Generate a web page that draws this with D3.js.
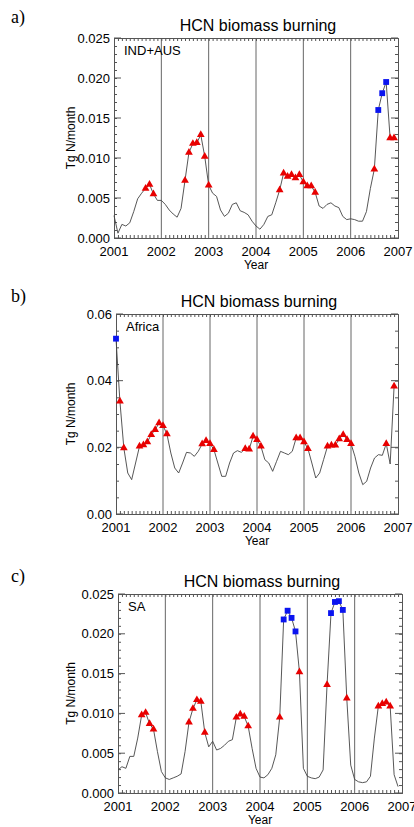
<!DOCTYPE html>
<html>
<head>
<meta charset="utf-8">
<script src="https://cdn.jsdelivr.net/npm/d3@7/dist/d3.min.js"></script>
<style>
  html, body { margin: 0; padding: 0; background: #fff; }
  svg { display: block; font-family: "Liberation Sans", Arial, sans-serif; }
</style>
</head>
<body>
<div id="chart"></div>
<script>
// ---- data (monthly values, Jan 2001 .. Dec 2006, Tg N/month) ----
const years = [2001, 2002, 2003, 2004, 2005, 2006, 2007];

const indAusValues = [
  0.0028, 0.0006, 0.0017, 0.0015, 0.0019, 0.0033, 0.0049, 0.0056, 0.0062, 0.0067, 0.0055, 0.0047,
  0.0047, 0.0042, 0.0035, 0.0030, 0.0026, 0.0037, 0.0072, 0.0107, 0.0118, 0.0119, 0.0129, 0.0102,
  0.0066, 0.0056, 0.0052, 0.0035, 0.0027, 0.0031, 0.0042, 0.0044, 0.0034, 0.0032, 0.0029, 0.0021,
  0.0015, 0.0011, 0.0017, 0.0027, 0.0029, 0.0044, 0.0060, 0.0081, 0.0077, 0.0079, 0.0075, 0.0079,
  0.0070, 0.0065, 0.0065, 0.0057, 0.0040, 0.0037, 0.0042, 0.0044, 0.0040, 0.0038, 0.0027, 0.0023,
  0.0024, 0.0023, 0.0021, 0.0021, 0.0033, 0.0062, 0.0086, 0.0160, 0.0181, 0.0195, 0.0125, 0.0125
];
const indAusTriangles = [8, 9, 10, 18, 19, 20, 21, 22, 23, 24, 42, 43, 44, 45, 46, 47, 48, 49, 50, 51, 66, 70, 71];
const indAusSquares = [67, 68, 69];

const africaValues = [
  0.0526, 0.0338, 0.0198, 0.0123, 0.0103, 0.0153, 0.0203, 0.0207, 0.0216, 0.0238, 0.0253, 0.0273,
  0.0265, 0.0240, 0.0183, 0.0138, 0.0123, 0.0153, 0.0185, 0.0183, 0.0173, 0.0188, 0.0210, 0.0220,
  0.0211, 0.0193, 0.0153, 0.0113, 0.0113, 0.0153, 0.0183, 0.0190, 0.0185, 0.0196, 0.0194, 0.0233,
  0.0223, 0.0203, 0.0163, 0.0153, 0.0128, 0.0158, 0.0188, 0.0183, 0.0178, 0.0188, 0.0228, 0.0228,
  0.0216, 0.0196, 0.0153, 0.0108, 0.0123, 0.0163, 0.0203, 0.0206, 0.0206, 0.0225, 0.0238, 0.0223,
  0.0211, 0.0173, 0.0123, 0.0088, 0.0098, 0.0138, 0.0168, 0.0178, 0.0176, 0.0211, 0.0150, 0.0383
];
const africaTriangles = [1, 2, 6, 7, 8, 9, 10, 11, 12, 13, 22, 23, 24, 25, 33, 34, 35, 36, 37,
  46, 47, 48, 49, 54, 55, 56, 57, 58, 59, 60, 69, 71];
const africaSquares = [0];

const saValues = [
  0.0029, 0.0033, 0.0031, 0.0046, 0.0046, 0.0069, 0.0098, 0.0101, 0.0087, 0.0080, 0.0052, 0.0027,
  0.0019, 0.0017, 0.0019, 0.0021, 0.0024, 0.0052, 0.0089, 0.0106, 0.0117, 0.0115, 0.0076, 0.0058,
  0.0065, 0.0054, 0.0056, 0.0060, 0.0065, 0.0067, 0.0095, 0.0099, 0.0096, 0.0084, 0.0056, 0.0031,
  0.0020, 0.0019, 0.0023, 0.0031, 0.0048, 0.0095, 0.0218, 0.0229, 0.0220, 0.0203, 0.0152, 0.0031,
  0.0021, 0.0019, 0.0018, 0.0020, 0.0029, 0.0136, 0.0226, 0.0240, 0.0241, 0.0230, 0.0119, 0.0035,
  0.0017, 0.0014, 0.0013, 0.0014, 0.0021, 0.0069, 0.0109, 0.0112, 0.0114, 0.0109, 0.0023, 0.0008
];
const saTriangles = [6, 7, 8, 9, 18, 19, 20, 21, 22, 30, 31, 32, 33, 41, 46, 53, 58, 66, 67, 68, 69];
const saSquares = [42, 43, 44, 45, 54, 55, 56, 57];

const yTicksSmall = [0, 0.005, 0.010, 0.015, 0.020, 0.025];
const yTicksAfrica = [0, 0.02, 0.04, 0.06];

// ---- layout ----
const W = 414, H = 827;
const panels = [
  { tag: "a)", region: "IND+AUS", values: indAusValues, tri: indAusTriangles, sq: indAusSquares,
    yTicks: yTicksSmall, yMinor: 0.001, fmt: ".3f",
    box: { left: 114, right: 398, top: 38, bottom: 238 }, tagY: 23 },
  { tag: "b)", region: "Africa", values: africaValues, tri: africaTriangles, sq: africaSquares,
    yTicks: yTicksAfrica, yMinor: 0.005, fmt: ".2f",
    box: { left: 116, right: 398, top: 314, bottom: 514 }, tagY: 302 },
  { tag: "c)", region: "SA", values: saValues, tri: saTriangles, sq: saSquares,
    yTicks: yTicksSmall, yMinor: 0.001, fmt: ".3f",
    box: { left: 118, right: 402, top: 594, bottom: 793 }, tagY: 582 }
];

const svg = d3.select("#chart").append("svg")
  .attr("width", W)
  .attr("height", H);

const frameColor = "#555";

panels.forEach(p => drawPanel(p));

function drawPanel(p) {
  const b = p.box;
  const yMax = p.yTicks[p.yTicks.length - 1];
  const x = d3.scaleLinear().domain([years[0], years[years.length - 1]]).range([b.left, b.right]);
  const y = d3.scaleLinear().domain([0, yMax]).range([b.bottom, b.top]);
  const g = svg.append("g");

  /* panel tag and title */
  svg.append("text")
    .attr("x", 11).attr("y", p.tagY)
    .attr("font-family", "'Liberation Serif', 'DejaVu Serif', serif")
    .attr("font-size", 18)
    .text(p.tag);

  g.append("text")
    .attr("x", (b.left + b.right) / 2 + 2).attr("y", b.top - 7)
    .attr("text-anchor", "middle")
    .attr("font-size", 16)
    .text("HCN biomass burning");

  /* vertical year lines */
  g.append("g").selectAll("line")
    .data(years.slice(1, -1))
    .enter().append("line")
      .attr("x1", d => x(d)).attr("x2", d => x(d))
      .attr("y1", b.top).attr("y2", b.bottom)
      .attr("stroke", "#666")
      .attr("stroke-width", 1);

  /* axes, ticks pointing in */
  const months = d3.range(years[0], years[years.length - 1], 1 / 12);
  const minorY = d3.range(0, yMax + 1e-9, p.yMinor);

  const bottom = g.append("g").attr("transform", `translate(0,${b.bottom})`);
  bottom.call(d3.axisBottom(x).tickValues(months).tickSize(-3).tickFormat(""));
  bottom.call(g2 => g2.selectAll(".tick").filter(d => Math.abs(d - Math.round(d)) < 1e-6).remove());

  const top = g.append("g").attr("transform", `translate(0,${b.top})`);
  top.call(d3.axisTop(x).tickValues(months).tickSize(-3).tickFormat(""));

  const left = g.append("g").attr("transform", `translate(${b.left},0)`);
  left.call(d3.axisLeft(y).tickValues(minorY).tickSize(-3).tickFormat(""));
  left.append("g").selectAll("line")
    .data(p.yTicks)
    .enter().append("line")
      .attr("x1", 0).attr("x2", 7)
      .attr("y1", d => y(d)).attr("y2", d => y(d))
      .attr("stroke", frameColor);

  const right = g.append("g").attr("transform", `translate(${b.right},0)`);
  right.call(d3.axisRight(y).tickValues(minorY).tickSize(-3).tickFormat(""));
  right.append("g").selectAll("line")
    .data(p.yTicks)
    .enter().append("line")
      .attr("x1", 0).attr("x2", -7)
      .attr("y1", d => y(d)).attr("y2", d => y(d))
      .attr("stroke", frameColor);

  g.selectAll(".domain").attr("stroke", frameColor);
  g.selectAll(".tick line").attr("stroke", frameColor);

  /* tick labels */
  g.append("g").selectAll("text")
    .data(years)
    .enter().append("text")
      .attr("x", d => x(d)).attr("y", b.bottom + 18)
      .attr("text-anchor", "middle")
      .attr("font-size", 13)
      .attr("fill", "#000")
      .text(d => d);

  g.append("g").selectAll("text")
    .data(p.yTicks)
    .enter().append("text")
      .attr("x", b.left - 4).attr("y", d => y(d))
      .attr("dy", "0.35em")
      .attr("text-anchor", "end")
      .attr("font-size", 13)
      .attr("fill", "#000")
      .text(d => d3.format(p.fmt)(d));

  /* axis titles */
  g.append("text")
    .attr("x", (b.left + b.right) / 2).attr("y", b.bottom + 31)
    .attr("text-anchor", "middle")
    .attr("font-size", 12)
    .text("Year");

  g.append("text")
    .attr("transform", `translate(75,${(b.top + b.bottom) / 2}) rotate(-90)`)
    .attr("text-anchor", "middle")
    .attr("font-size", 12)
    .text("Tg N/month");

  g.append("text")
    .attr("x", b.left + 10).attr("y", b.top + 17)
    .attr("font-size", 13)
    .text(p.region);

  /* series line */
  const t = i => years[0] + i / 12;
  const line = d3.line()
    .x((d, i) => x(t(i)))
    .y(d => y(d));

  g.append("path")
    .datum(p.values)
    .attr("d", line)
    .attr("fill", "none")
    .attr("stroke", "#444")
    .attr("stroke-width", 0.9);

  /* markers */
  g.append("g").selectAll("path")
    .data(p.tri)
    .enter().append("path")
      .attr("transform", i => `translate(${x(t(i))},${y(p.values[i])})`)
      .attr("d", d3.symbol(d3.symbolTriangle, 26))
      .attr("fill", "#e80000");

  g.append("g").selectAll("path")
    .data(p.sq)
    .enter().append("path")
      .attr("transform", i => `translate(${x(t(i))},${y(p.values[i])})`)
      .attr("d", d3.symbol(d3.symbolSquare, 34))
      .attr("fill", "#0a14f0");
}
</script>
</body>
</html>
